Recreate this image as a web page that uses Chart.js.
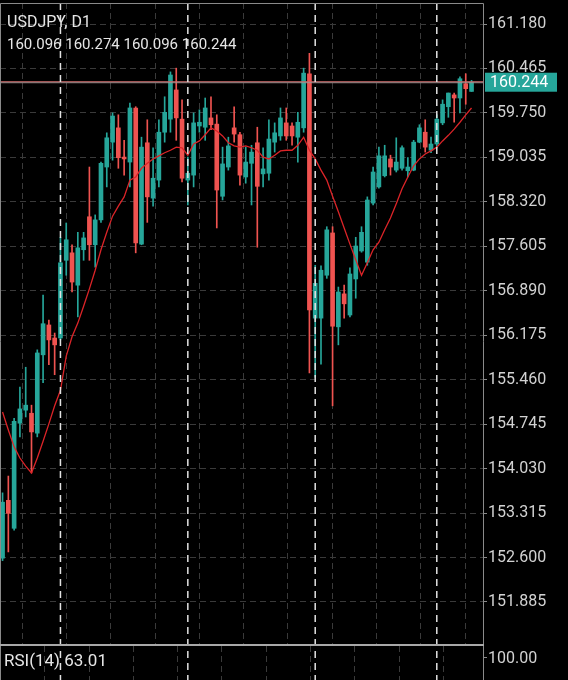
<!DOCTYPE html>
<html lang="en">
<head>
  <meta charset="UTF-8" />
  <title>USDJPY, D1</title>
  <script src="https://cdn.jsdelivr.net/npm/chart.js@4.4.1/dist/chart.umd.min.js"></script>
  <style>
    html, body { margin: 0; padding: 0; background: #000; }
    #chart { display: block; }
  </style>
</head>
<body>
<canvas id="chart" width="568" height="680"></canvas>

<script>
// Daily bars (oldest first)
const symbolName = "USDJPY, D1";
const opens = [
  152.59, 153.52, 153.07, 154.76, 154.97, 154.92, 154.60, 155.86, 156.34, 156.13,
  156.13, 157.38, 157.50, 156.98, 157.55, 158.08, 157.63, 158.03, 158.88, 159.28,
  159.51, 159.04, 158.96, 159.83, 157.64, 159.27, 158.38, 158.67, 159.44, 159.65,
  160.12, 159.65, 158.67, 158.75, 159.54, 159.52, 159.67, 159.57, 158.41, 158.88,
  159.51, 159.40, 158.72, 158.94, 159.27, 158.77, 158.78, 159.28, 159.38, 159.59,
  159.54, 159.36, 159.51, 160.38, 156.45, 156.45, 157.14, 157.82, 156.31, 156.84,
  156.50, 157.08, 157.53, 157.35, 158.30, 158.56, 158.74, 159.01, 158.83, 158.86,
  158.82, 158.83, 159.28, 159.44, 159.15, 159.25, 159.59, 159.85, 160.04, 159.99,
  160.22, 160.096
];
const highs = [
  153.64, 153.91, 154.84, 155.34, 155.66, 155.05, 155.94, 156.82, 156.42, 156.21,
  157.75, 157.98, 157.63, 157.83, 157.83, 158.88, 158.11, 158.96, 159.43, 159.75,
  159.72, 159.31, 159.91, 159.85, 159.36, 159.64, 159.19, 159.64, 160.01, 160.41,
  160.47, 159.96, 159.04, 159.75, 159.80, 159.99, 160.01, 159.72, 159.20, 159.36,
  159.85, 159.44, 159.20, 159.23, 159.52, 159.19, 159.64, 159.59, 159.83, 159.83,
  159.59, 159.76, 160.47, 160.71, 157.30, 157.29, 157.92, 157.92, 156.95, 156.98,
  157.26, 157.75, 157.92, 158.40, 158.88, 159.20, 159.23, 159.07, 159.35, 159.22,
  159.03, 159.31, 159.56, 159.64, 159.36, 159.72, 159.96, 160.07, 160.07, 160.33,
  160.38, 160.274
];
const lows = [
  152.55, 152.69, 153.04, 154.54, 154.86, 153.96, 154.54, 155.41, 155.70, 155.54,
  156.10, 157.14, 156.87, 156.47, 157.38, 157.38, 157.27, 157.99, 158.56, 158.99,
  158.86, 158.75, 158.56, 157.50, 157.63, 157.99, 158.25, 158.56, 159.28, 159.44,
  159.31, 158.64, 158.27, 158.56, 159.44, 159.31, 159.48, 157.90, 158.35, 158.83,
  159.28, 158.59, 158.62, 158.27, 157.59, 158.56, 158.67, 159.12, 159.31, 159.31,
  159.23, 158.96, 159.44, 155.57, 155.50, 155.71, 157.09, 155.04, 156.02, 156.45,
  156.47, 156.77, 157.51, 157.30, 158.27, 158.54, 158.72, 158.75, 158.80, 158.83,
  158.72, 158.82, 159.27, 159.12, 159.11, 159.20, 159.56, 159.68, 159.60, 159.75,
  159.89, 160.096
];
const closes = [
  153.49, 153.31, 154.79, 154.99, 155.05, 154.62, 155.89, 156.36, 156.10, 156.02,
  157.34, 157.71, 157.03, 157.58, 157.74, 157.63, 158.03, 158.94, 159.35, 159.70,
  159.03, 159.01, 159.83, 157.66, 159.20, 158.40, 158.70, 159.44, 159.76, 160.36,
  159.67, 158.70, 158.78, 159.59, 159.60, 159.83, 159.56, 158.51, 158.93, 159.22,
  159.41, 158.75, 158.96, 159.12, 158.57, 158.85, 159.33, 159.43, 159.67, 159.38,
  159.38, 159.60, 160.39, 156.58, 157.01, 157.22, 157.87, 156.32, 156.87, 156.68,
  157.16, 157.61, 157.83, 158.35, 158.80, 159.06, 159.06, 158.88, 158.96, 159.19,
  158.88, 159.28, 159.51, 159.20, 159.25, 159.65, 159.89, 160.07, 159.99, 160.30,
  160.14, 160.244
];
// red moving average line, read point by point
const maLine = [
  154.94, 154.65, 154.38, 154.20, 154.07, 153.96, 154.20, 154.47, 154.75, 155.04,
  155.29, 155.84, 156.15, 156.37, 156.64, 156.92, 157.22, 157.55, 157.83, 158.09,
  158.25, 158.40, 158.67, 158.72, 158.86, 158.94, 159.01, 159.06, 159.11, 159.15,
  159.20, 159.19, 159.07, 159.25, 159.30, 159.40, 159.51, 159.46, 159.38, 159.27,
  159.22, 159.20, 159.22, 159.19, 159.15, 159.04, 159.01, 159.07, 159.14, 159.15,
  159.15, 159.23, 159.36, 159.15, 159.01, 158.83, 158.67, 158.41, 158.16, 157.90,
  157.64, 157.39, 157.14, 157.34, 157.55, 157.67, 157.87, 158.06, 158.29, 158.53,
  158.72, 158.90, 159.01, 159.09, 159.14, 159.20, 159.30, 159.39, 159.49, 159.60,
  159.72, 159.83
];
// bar index of first bar of each month (period separators)
const monthStarts = [10, 32, 54, 75];
const priceTicks = [161.180, 160.465, 159.750, 159.035, 158.320, 157.605, 156.890,
                    156.175, 155.460, 154.745, 154.030, 153.315, 152.600, 151.885];
const rsiName = "RSI(14)";
const rsiValue = 63.01;
const rsiTopLabel = 100;

// axis ranges
const yMin = 151.177, yMax = 161.518;
const xMin = -0.44, xMax = 82.98;
const xGridStep = 7.65;

const UP = '#26a69a', DOWN = '#ef5350';
const bars = closes.map((c, i) => i);
const barColors = bars.map(i => closes[i] >= opens[i] ? UP : DOWN);
const last = bars.length - 1;

Chart.defaults.font.family = 'Roboto';

const overlay = {
  id: 'overlay',
  afterDatasetsDraw(chart) {
    const { ctx, chartArea: a, scales: { x, y } } = chart;
    const H = chart.height;

    // bid / ask line
    const py = y.getPixelForValue(closes[last]);
    ctx.save();
    ctx.lineWidth = 1;
    ctx.strokeStyle = '#c86a6a';
    ctx.beginPath(); ctx.moveTo(a.left, py - 0.5); ctx.lineTo(a.right, py - 0.5); ctx.stroke();
    ctx.strokeStyle = '#a58e8e';
    ctx.beginPath(); ctx.moveTo(a.left, py + 0.5); ctx.lineTo(a.right, py + 0.5); ctx.stroke();
    ctx.restore();

    // grey grid carried on into the RSI window
    ctx.save();
    ctx.strokeStyle = '#3a3a3a';
    ctx.lineWidth = 1;
    ctx.setLineDash([6, 4]);
    x.ticks.forEach(t => {
      const px = Math.round(x.getPixelForValue(t.value)) + 0.5;
      ctx.beginPath(); ctx.moveTo(px, a.bottom); ctx.lineTo(px, H); ctx.stroke();
    });
    ctx.restore();

    // month separators
    ctx.save();
    ctx.strokeStyle = '#e2e2e2';
    ctx.lineWidth = 1.5;
    ctx.setLineDash([7, 5]);
    monthStarts.forEach(i => {
      const px = x.getPixelForValue(i);
      ctx.beginPath(); ctx.moveTo(px, a.top); ctx.lineTo(px, H); ctx.stroke();
    });
    ctx.restore();
  },
  afterDraw(chart) {
    const { ctx, chartArea: a, scales: { y } } = chart;
    const H = chart.height;

    // frame
    ctx.save();
    ctx.strokeStyle = '#8a8a8a';
    ctx.lineWidth = 1;
    ctx.beginPath();
    ctx.moveTo(0.5, H); ctx.lineTo(0.5, a.top + 0.5);
    ctx.lineTo(a.right + 0.5, a.top + 0.5); ctx.lineTo(a.right + 0.5, H);
    ctx.stroke();
    // window separator
    ctx.strokeStyle = '#a8a8a8';
    ctx.lineWidth = 2;
    ctx.beginPath(); ctx.moveTo(0, a.bottom - 1); ctx.lineTo(a.right + 1, a.bottom - 1); ctx.stroke();
    // RSI top tick
    ctx.lineWidth = 1;
    ctx.strokeStyle = '#8a8a8a';
    ctx.beginPath(); ctx.moveTo(a.right, a.bottom + 11.5); ctx.lineTo(a.right + 4, a.bottom + 11.5); ctx.stroke();
    ctx.restore();

    // texts
    ctx.save();
    ctx.fillStyle = '#e6e6e6';
    ctx.textBaseline = 'alphabetic';
    ctx.textAlign = 'left';
    ctx.font = '16px Roboto';
    ctx.fillText(symbolName, 7, 27);
    ctx.font = '15px Roboto';
    const ohlc = [opens[last], highs[last], lows[last], closes[last]].map(v => v.toFixed(3)).join(' ');
    ctx.fillText(ohlc, 7, 49);
    ctx.font = '17px Roboto';
    ctx.fillText(rsiName + ' ' + rsiValue.toFixed(2), 4, a.bottom + 20);
    ctx.font = '16px Roboto';
    ctx.fillStyle = '#d2d2d2';
    ctx.fillText(rsiTopLabel.toFixed(2), a.right + 5, a.bottom + 17);

    // last price tag
    const py = y.getPixelForValue(closes[last]);
    ctx.fillStyle = UP;
    ctx.fillRect(a.right + 2, py - 9.5, 72, 19);
    ctx.fillStyle = '#ffffff';
    ctx.font = '16px Roboto';
    ctx.textBaseline = 'middle';
    ctx.fillText(closes[last].toFixed(3), a.right + 7, py + 1);
    ctx.restore();
  }
};

new Chart(document.getElementById('chart').getContext('2d'), {
  type: 'bar',
  data: {
    datasets: [
      {
        type: 'line',
        label: 'MA',
        data: bars.map(i => ({ x: i, y: maLine[i] })),
        borderColor: '#dc2428',
        borderWidth: 1.3,
        pointRadius: 0,
        tension: 0,
        order: 0
      },
      {
        label: 'body',
        data: bars.map(i => ({ x: i, y: [opens[i], closes[i]] })),
        backgroundColor: barColors,
        barThickness: 4,
        minBarLength: 1,
        grouped: false,
        order: 1
      },
      {
        label: 'wick',
        data: bars.map(i => ({ x: i, y: [lows[i], highs[i]] })),
        backgroundColor: barColors,
        barThickness: 1,
        grouped: false,
        order: 2
      }
    ]
  },
  options: {
    responsive: false,
    animation: false,
    events: [],
    layout: { padding: { top: 3, left: 0, right: 0, bottom: 0 } },
    plugins: { legend: { display: false }, tooltip: { enabled: false } },
    scales: {
      x: {
        type: 'linear',
        min: xMin,
        max: xMax,
        offset: false,
        afterBuildTicks: s => {
          const t = [];
          for (let v = xMin; v <= xMax; v += xGridStep) t.push({ value: v });
          s.ticks = t;
        },
        afterFit: s => { s.height = 34; s.paddingLeft = 0; s.paddingRight = 0; },
        ticks: { display: false },
        grid: { color: '#3a3a3a', drawTicks: false },
        border: { display: false, dash: [6, 4] }
      },
      y: {
        position: 'right',
        min: yMin,
        max: yMax,
        afterBuildTicks: s => { s.ticks = priceTicks.map(v => ({ value: v })); },
        afterFit: s => { s.width = 85; s.paddingTop = 0; s.paddingBottom = 0; },
        ticks: {
          color: '#d2d2d2',
          font: { size: 16 },
          padding: 1,
          autoSkip: false,
          callback: v => v.toFixed(3)
        },
        grid: { color: '#3a3a3a', tickLength: 4, tickColor: '#8a8a8a' },
        border: { display: false, dash: [6, 4] }
      }
    }
  },
  plugins: [overlay]
});
</script>
</body>
</html>
